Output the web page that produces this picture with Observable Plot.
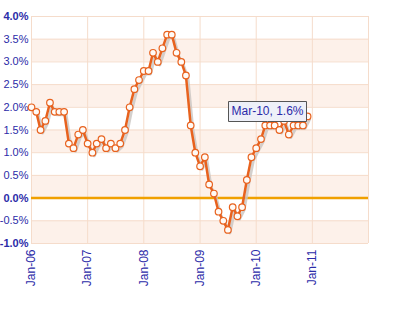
<!DOCTYPE html>
<html>
<head>
<meta charset="utf-8">
<script src="https://cdn.jsdelivr.net/npm/d3@7"></script>
<script src="https://cdn.jsdelivr.net/npm/@observablehq/plot@0.6"></script>
<style>
  html, body { margin: 0; padding: 0; background: #fff; }
  #chart svg { display: block; }
  g[aria-label="tip"] text { fill: #2b2ba8; }
</style>
</head>
<body>
<div id="chart"></div>
<script>
// Monthly values, Jan-2006 .. Dec-2010 (%)
const startYear = 2006;
const values = [
  2.0, 1.9, 1.5, 1.7, 2.1, 1.9, 1.9, 1.9, 1.2, 1.1, 1.4, 1.5,
  1.2, 1.0, 1.2, 1.3, 1.1, 1.2, 1.1, 1.2, 1.5, 2.0, 2.4, 2.6,
  2.8, 2.8, 3.2, 3.0, 3.3, 3.6, 3.6, 3.2, 3.0, 2.7, 1.6, 1.0,
  0.7, 0.9, 0.3, 0.1, -0.3, -0.5, -0.7, -0.2, -0.4, -0.2, 0.4, 0.9,
  1.1, 1.3, 1.6, 1.6, 1.6, 1.5, 1.7, 1.4, 1.6, 1.6, 1.6, 1.8
];
const yTicks = [-1.0, -0.5, 0.0, 0.5, 1.0, 1.5, 2.0, 2.5, 3.0, 3.5, 4.0];
const boldTickLabels = ["-1.0%", "0.0%", "4.0%"];
const xTickYears = [2006, 2007, 2008, 2009, 2010, 2011];
const xDomainYears = [2006, 2012];
const bandStarts = [-1.0, 0.0, 1.0, 2.0, 3.0];
const annotationIndex = 50; // Mar-10

const fmtMonth = d3.utcFormat("%b-%y");
const fmtPct = d => d.toFixed(1) + "%";
const data = values.map((v, i) => ({date: new Date(Date.UTC(startYear, i, 1)), value: v}));
const xTicks = xTickYears.map(y => new Date(Date.UTC(y, 0, 1)));
const xDomain = xDomainYears.map(y => new Date(Date.UTC(y, 0, 1)));
const bands = bandStarts.map(s => ({x1: xDomain[0], x2: xDomain[1], y1: s, y2: s + 0.5}));
const annot = [data[annotationIndex]].map(d => ({...d, label: `${fmtMonth(d.date)}, ${fmtPct(d.value)}`}));

const blue = "#2b2ba8";
const grid = "#f5dccb";
const orange = "#e8621e";

const plot = Plot.plot({
  width: 398,
  height: 322,
  marginLeft: 31,
  marginRight: 30,
  marginTop: 16,
  marginBottom: 79,
  style: {fontFamily: "Liberation Sans, Arial, sans-serif", fontSize: "11px", color: blue, background: "#fff"},
  x: {type: "utc", domain: xDomain},
  y: {domain: [-1, 4]},
  marks: [
    Plot.rect(bands, {x1: "x1", x2: "x2", y1: "y1", y2: "y2", fill: "#fdf1ea"}),
    Plot.ruleY(yTicks, {stroke: grid, strokeWidth: 1}),
    Plot.ruleX(xTicks, {stroke: grid, strokeWidth: 1}),
    Plot.ruleX([xDomain[1]], {stroke: grid, strokeWidth: 1}),
    Plot.ruleX([xDomain[0]], {stroke: grid, strokeWidth: 1}),
    Plot.ruleY([0], {stroke: "#f0a000", strokeWidth: 2.5}),
    Plot.axisY({ticks: yTicks, tickSize: 0, tickPadding: 3, tickFormat: fmtPct, fill: blue, fontSize: 11}),
    Plot.axisX({ticks: xTicks, tickSize: 0, tickPadding: 6, tickRotate: -90, tickFormat: fmtMonth, fill: blue, fontSize: 12}),
    Plot.line(data, {x: "date", y: "value", stroke: "#c9c4c0", strokeWidth: 3, dx: 2, dy: 3, strokeOpacity: 0.8}),
    Plot.line(data, {x: "date", y: "value", stroke: orange, strokeWidth: 2.5}),
    Plot.dot(data, {x: "date", y: "value", r: 3.3, fill: "#fffaf6", stroke: orange, strokeWidth: 1.2}),
    Plot.tip(annot, {x: "date", y: "value", title: "label", anchor: "bottom", pointerSize: 0, dy: -4, dx: 2,
      fill: "#eef0f8", stroke: "#555", strokeWidth: 1, fontSize: 12, textPadding: 3, pathFilter: "none"})
  ]
});
// bold selected y tick labels (matched by their text)
d3.select(plot).selectAll('g[aria-label="y-axis tick label"] text').each(function() {
  const t = d3.select(this);
  t.attr("font-weight", boldTickLabels.includes(t.text()) ? "bold" : "normal");
});
document.getElementById("chart").appendChild(plot);
</script>
</body>
</html>
